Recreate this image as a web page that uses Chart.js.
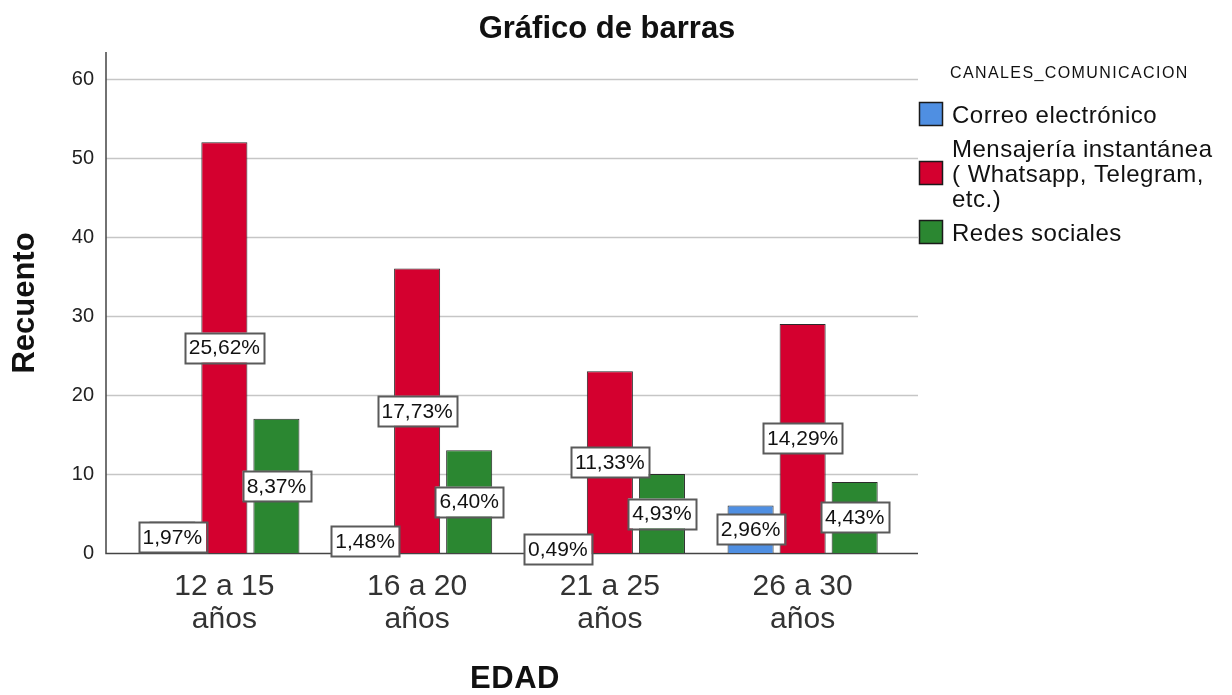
<!DOCTYPE html>
<html lang="es">
<head>
<meta charset="utf-8">
<title>Gráfico de barras</title>
<script src="https://cdn.jsdelivr.net/npm/chart.js@4.4.1/dist/chart.umd.min.js"></script>
<style>
    body {
        margin: 0;
        background: #fff;
    }
</style>
</head>
<body>
<canvas id="js--chart" width="1232" height="695"></canvas>
<script>
/* data: recuento per leeftijdsgroep */
const ageGroups = [["12 a 15", "años"], ["16 a 20", "años"], ["21 a 25", "años"], ["26 a 30", "años"]];
const correo = [4, 3, 1, 6];
const mensajeria = [52, 36, 23, 29];
const redes = [17, 13, 10, 9];
const seriesNames = [["Correo electrónico"], ["Mensajería instantánea", "( Whatsapp, Telegram,", "etc.)"], ["Redes sociales"]];
const yTicks = [0, 10, 20, 30, 40, 50, 60];

const FONT = "'Liberation Sans', Arial, sans-serif";

// totaal voor de percentages in de labels
const total = [correo, mensajeria, redes].flat().reduce(function (a, b) { return a + b; }, 0);

function drawText(ctx, text, x, y, font, align, spacing) {
    ctx.save();
    ctx.font = font;
    ctx.fillStyle = "#111";
    ctx.textAlign = align;
    ctx.textBaseline = "middle";
    ctx.letterSpacing = spacing + "px";
    ctx.fillText(text, x, y);
    ctx.restore();
}

// rasterlijnen en assen zelf tekenen, die lopen verder door dan de balken
const axesPlugin = {
    id: "axesPlugin",
    beforeDatasetsDraw: function (chart) {
        const ctx = chart.ctx;
        const y = chart.scales.y;
        const left = 106, right = 918;
        ctx.save();
        ctx.strokeStyle = "#c6c6c6";
        ctx.lineWidth = 1.5;
        yTicks.forEach(function (v) {
            if (v === 0) return;
            const py = Math.round(y.getPixelForValue(v)) + 0.5;
            ctx.beginPath();
            ctx.moveTo(left, py);
            ctx.lineTo(right, py);
            ctx.stroke();
        });
        const base = Math.round(y.getPixelForValue(0)) + 0.5;
        ctx.strokeStyle = "#444";
        ctx.lineWidth = 1.5;
        ctx.beginPath();
        ctx.moveTo(left, 52);
        ctx.lineTo(left, base);
        ctx.lineTo(right, base);
        ctx.stroke();
        ctx.restore();
    },
    afterDraw: function (chart) {
        const ctx = chart.ctx;

        // titels
        drawText(ctx, "Gráfico de barras", 607, 29, "bold 31px " + FONT, "center", 0);
        drawText(ctx, "EDAD", 515, 679, "bold 31px " + FONT, "center", 0.5);
        ctx.save();
        ctx.translate(25, 303);
        ctx.rotate(-Math.PI / 2);
        drawText(ctx, "Recuento", 0, 0, "bold 31px " + FONT, "center", 0);
        ctx.restore();

        // legenda
        drawText(ctx, "CANALES_COMUNICACION", 950, 74, "16px " + FONT, "left", 1.4);
        let cy = 116;
        chart.data.datasets.forEach(function (ds, i) {
            const lines = seriesNames[i];
            const lineStep = 25;
            const mid = cy + (lines.length - 1) * lineStep / 2;
            ctx.save();
            ctx.fillStyle = ds.backgroundColor;
            ctx.strokeStyle = "#1a1a1a";
            ctx.lineWidth = 1.5;
            ctx.fillRect(919, mid - 14, 24, 24);
            ctx.strokeRect(919.5, mid - 13.5, 23, 23);
            ctx.restore();
            lines.forEach(function (line, j) {
                drawText(ctx, line, 952, cy + j * lineStep, "24px " + FONT, "left", 0.5);
            });
            cy += lines.length * lineStep + 9;
        });
    }
};

// percentage labels in het midden van elke balk
const labelPlugin = {
    id: "labelPlugin",
    afterDatasetsDraw: function (chart) {
        const ctx = chart.ctx;
        ctx.save();
        ctx.font = "21px " + FONT;
        chart.data.datasets.forEach(function (ds, i) {
            const meta = chart.getDatasetMeta(i);
            meta.data.forEach(function (bar, j) {
                const pct = (ds.data[j] / total * 100).toFixed(2).replace(".", ",") + "%";
                const w = ctx.measureText(pct).width + 8;
                const h = 30;
                const cx = bar.x;
                const cyy = (bar.y + bar.base) / 2;
                ctx.fillStyle = "#fff";
                ctx.fillRect(cx - w / 2, cyy - h / 2, w, h);
                ctx.strokeStyle = "#5a5a5a";
                ctx.lineWidth = 2;
                ctx.strokeRect(Math.round(cx - w / 2) + 0.5, Math.round(cyy - h / 2) + 0.5, Math.round(w), h);
                ctx.fillStyle = "#111";
                ctx.textAlign = "center";
                ctx.textBaseline = "middle";
                ctx.fillText(pct, cx, cyy + 1);
            });
        });
        ctx.restore();
    }
};

const data = {
    labels: ageGroups,
    datasets: [
        { label: "Correo electrónico", data: correo, backgroundColor: "#4f8fe2" },
        { label: "Mensajería instantánea ( Whatsapp, Telegram, etc.)", data: mensajeria, backgroundColor: "#d4002f" },
        { label: "Redes sociales", data: redes, backgroundColor: "#2b8731" }
    ]
};

const config = {
    type: "bar",
    data: data,
    options: {
        responsive: false,
        animation: false,
        devicePixelRatio: 1,
        layout: {
            padding: { top: 79, right: 333, bottom: 0, left: 0 }
        },
        datasets: {
            bar: {
                borderColor: "#2b2b2b",
                borderWidth: 1,
                categoryPercentage: 0.81,
                barPercentage: 0.885
            }
        },
        plugins: {
            legend: { display: false },
            title: { display: false },
            tooltip: { enabled: false }
        },
        scales: {
            x: {
                grid: { display: false },
                border: { display: false },
                ticks: {
                    color: "#333",
                    padding: 9,
                    font: { family: FONT, size: 30, lineHeight: 1.1 }
                },
                afterFit: function (scale) {
                    scale.height = 142;
                }
            },
            y: {
                min: 0,
                max: 60,
                grid: { display: false },
                border: { display: false },
                ticks: {
                    stepSize: 10,
                    color: "#222",
                    padding: 26,
                    font: { family: FONT, size: 20 }
                },
                afterFit: function (scale) {
                    scale.width = 128;
                }
            }
        }
    },
    plugins: [axesPlugin, labelPlugin]
};

new Chart(document.getElementById("js--chart"), config);
</script>
</body>
</html>
